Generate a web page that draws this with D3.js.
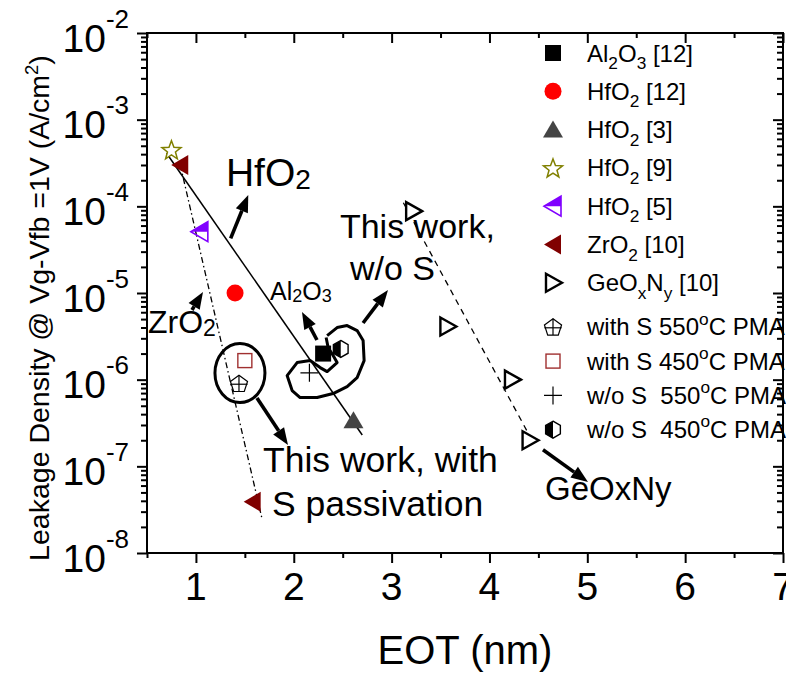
<!DOCTYPE html>
<html>
<head>
<meta charset="utf-8">
<script src="https://cdn.jsdelivr.net/npm/d3@7"></script>
<style>
  body { margin: 0; background: #fff; }
  svg { display: block; font-family: "Liberation Sans", Arial, sans-serif; }
</style>
</head>
<body>
<svg id="chart" width="786" height="675"></svg>
<script>
// ---- data: EOT (nm) and leakage density at Vg-Vfb = 1 V (A/cm^2) ----
const al2o3Ref12Eot = [2.30],  al2o3Ref12J = [2.0e-6];
const hfo2Ref12Eot  = [1.40],  hfo2Ref12J  = [1.0e-5];
const hfo2Ref3Eot   = [2.61],  hfo2Ref3J   = [3.4e-7];
const hfo2Ref9Eot   = [0.75],  hfo2Ref9J   = [4.5e-4];
const hfo2Ref5Eot   = [1.04],  hfo2Ref5J   = [5.1e-5];
const zro2Ref10Eot  = [0.84, 1.58], zro2Ref10J = [3.0e-4, 3.9e-8];
const geoxnyRef10Eot = [3.22, 3.57, 4.23, 4.41];
const geoxnyRef10J   = [8.8e-5, 4.1e-6, 1.0e-6, 2.0e-7];
const withS550Eot = [1.44], withS550J = [9.1e-7];
const withS450Eot = [1.50], withS450J = [1.66e-6];
const woS550Eot   = [2.16], woS550J   = [1.2e-6];
const woS450Eot   = [2.48], woS450J   = [2.26e-6];

// trend guide lines
const hfo2TrendEot   = [0.70, 2.70],  hfo2TrendJ   = [4.1e-4, 2.3e-7];
const zro2TrendEot   = [0.84, 1.675], zro2TrendJ   = [3.0e-4, 2.5e-8];
const geoxnyTrendEot = [3.12, 4.38],  geoxnyTrendJ = [1.1e-4, 2.6e-7];

// axis ticks
const xTicks = [1, 2, 3, 4, 5, 6, 7];
const xMinorTicks = [0.5, 1.5, 2.5, 3.5, 4.5, 5.5, 6.5];
const yTickExps = [-8, -7, -6, -5, -4, -3, -2];

// legend labels ("_" = subscript char, "^" = superscript char)
const legendLabels = [
  "Al_2O_3 [12]", "HfO_2 [12]", "HfO_2 [3]", "HfO_2 [9]", "HfO_2 [5]",
  "ZrO_2 [10]", "GeO_xN_y [10]",
  "with S 550^oC PMA", "with S 450^oC PMA", "w/o S  550^oC PMA", "w/o S  450^oC PMA"
];
const legendSymbols = [
  "square", "circle", "triUp", "star", "triLeftHalf", "triLeft", "triRightOpen",
  "pentagon", "squareOpen", "plus", "hexHalf"
];

const series = [
  { eot: al2o3Ref12Eot, j: al2o3Ref12J, sym: "square" },
  { eot: hfo2Ref12Eot, j: hfo2Ref12J, sym: "circle" },
  { eot: hfo2Ref3Eot, j: hfo2Ref3J, sym: "triUp" },
  { eot: hfo2Ref9Eot, j: hfo2Ref9J, sym: "star" },
  { eot: hfo2Ref5Eot, j: hfo2Ref5J, sym: "triLeftHalf" },
  { eot: zro2Ref10Eot, j: zro2Ref10J, sym: "triLeft" },
  { eot: geoxnyRef10Eot, j: geoxnyRef10J, sym: "triRightOpen" },
  { eot: withS550Eot, j: withS550J, sym: "pentagon" },
  { eot: withS450Eot, j: withS450J, sym: "squareOpen" },
  { eot: woS550Eot, j: woS550J, sym: "plus" },
  { eot: woS450Eot, j: woS450J, sym: "hexHalf" }
];

// ---- layout ----
const svg = d3.select("#chart");
const L = 147, R = 783, T = 33, B = 553;
const x = d3.scaleLinear().domain([0.5, 7]).range([L, R]);
const y = d3.scaleLog().domain([1e-8, 1e-2]).range([B, T]);

// rich text with sub/superscripts
function richText(sel, str, size, opts = {}) {
  const subScale = opts.subScale ?? 0.68;
  const subDy = opts.subDy ?? 0.28;
  const supDy = opts.supDy ?? -0.42;
  const tokens = [];
  for (let i = 0; i < str.length; i++) {
    const c = str[i];
    if ((c === "_" || c === "^") && i + 1 < str.length) {
      tokens.push({ t: c === "_" ? "sub" : "sup", s: str[i + 1] });
      i++;
    } else {
      const last = tokens[tokens.length - 1];
      if (last && last.t === "n") last.s += c; else tokens.push({ t: "n", s: c });
    }
  }
  let cur = 0;
  tokens.forEach(tok => {
    let target = 0, fs = size;
    if (tok.t === "sub") { target = size * subDy; fs = size * subScale; }
    if (tok.t === "sup") { target = size * supDy; fs = size * subScale; }
    sel.append("tspan").attr("font-size", fs).attr("dy", target - cur).text(tok.s);
    cur = target;
  });
  return sel;
}

// marker glyphs
function drawMarker(g, type, cx, cy) {
  const m = g.append("g").attr("transform", `translate(${cx},${cy})`);
  switch (type) {
    case "square":
      m.append("rect").attr("x", -8).attr("y", -8).attr("width", 16).attr("height", 16).attr("fill", "#000");
      break;
    case "circle":
      m.append("circle").attr("r", 8.5).attr("fill", "#ff0000");
      break;
    case "triUp":
      m.append("polygon").attr("points", "0,-9 10,8 -10,8").attr("fill", "#444");
      break;
    case "star": {
      const pts = d3.range(10).map(i => {
        const r = i % 2 === 0 ? 10 : 4.2;
        const a = -Math.PI / 2 + i * Math.PI / 5;
        return [r * Math.cos(a), r * Math.sin(a) + 1];
      });
      m.append("polygon").attr("points", pts.map(p => p.join(",")).join(" "))
        .attr("fill", "#fff").attr("stroke", "#808000").attr("stroke-width", 1.5);
      break;
    }
    case "triLeftHalf":
      m.append("polygon").attr("points", "-9,0 8,-10 8,0").attr("fill", "#8000ff");
      m.append("polygon").attr("points", "-9,0 8,-10 8,10").attr("fill", "none")
        .attr("stroke", "#8000ff").attr("stroke-width", 1.6).attr("stroke-linejoin", "miter");
      break;
    case "triLeft":
      m.append("polygon").attr("points", "-9,0 8,-10 8,10").attr("fill", "#800000");
      break;
    case "triRightOpen":
      m.append("polygon").attr("points", "9,0 -7,-9 -7,9").attr("fill", "#fff")
        .attr("stroke", "#000").attr("stroke-width", 2.4);
      break;
    case "pentagon": {
      const pts = d3.range(5).map(i => {
        const a = -Math.PI / 2 + i * 2 * Math.PI / 5;
        return [9 * Math.cos(a), 9 * Math.sin(a) + 1];
      });
      m.append("polygon").attr("points", pts.map(p => p.join(",")).join(" "))
        .attr("fill", "#fff").attr("stroke", "#000").attr("stroke-width", 1.2);
      m.append("line").attr("x1", 0).attr("x2", 0).attr("y1", -8).attr("y2", 8.3).attr("stroke", "#000").attr("stroke-width", 1.2);
      m.append("line").attr("x1", -8.6).attr("x2", 8.6).attr("y1", 1).attr("y2", 1).attr("stroke", "#000").attr("stroke-width", 1.2);
      break;
    }
    case "squareOpen":
      m.append("rect").attr("x", -7).attr("y", -7).attr("width", 14).attr("height", 14)
        .attr("fill", "#fff").attr("stroke", "#a03030").attr("stroke-width", 1.4);
      break;
    case "plus":
      m.append("path").attr("d", "M-9,0H9M0,-9V9").attr("stroke", "#000").attr("stroke-width", 1.2);
      break;
    case "hexHalf": {
      const pts = d3.range(6).map(i => {
        const a = -Math.PI / 2 + i * Math.PI / 3;
        return [8.5 * Math.cos(a), 8.5 * Math.sin(a)];
      });
      m.append("polygon").attr("points", [[0, -8.5], pts[3], pts[4], pts[5]].map(p => p.join(",")).join(" "))
        .attr("fill", "#000");
      m.append("polygon").attr("points", pts.map(p => p.join(",")).join(" "))
        .attr("fill", "none").attr("stroke", "#000").attr("stroke-width", 1.4);
      break;
    }
  }
}

// ---- trend lines ----
const lineGen = d3.line().x(d => x(d[0])).y(d => y(d[1]));
const plot = svg.append("g");
plot.append("path").datum(d3.zip(hfo2TrendEot, hfo2TrendJ)).attr("d", lineGen)
  .attr("fill", "none").attr("stroke", "#000").attr("stroke-width", 1.5);
plot.append("path").datum(d3.zip(zro2TrendEot, zro2TrendJ)).attr("d", lineGen)
  .attr("fill", "none").attr("stroke", "#000").attr("stroke-width", 1.3).attr("stroke-dasharray", "6,3,1.5,3");
plot.append("path").datum(d3.zip(geoxnyTrendEot, geoxnyTrendJ)).attr("d", lineGen)
  .attr("fill", "none").attr("stroke", "#000").attr("stroke-width", 1.3).attr("stroke-dasharray", "6,5");

// ---- annotations (anchored in data coordinates) ----
const ann = svg.append("g").attr("fill", "#000");
function label(str, eot, j, size, opts) {
  const t = ann.append("text").attr("x", x(eot)).attr("y", y(j)).attr("font-size", size);
  if (opts && opts.anchor) t.attr("text-anchor", opts.anchor);
  richText(t, str, size, opts);
}
function arrow(e1, j1, e2, j2) {
  const x1 = x(e1), y1 = y(j1), x2 = x(e2), y2 = y(j2);
  const a = Math.atan2(y2 - y1, x2 - x1);
  const hl = 17, hw = 6.5;
  const bx = x2 - hl * Math.cos(a), by = y2 - hl * Math.sin(a);
  ann.append("line").attr("x1", x1).attr("y1", y1).attr("x2", bx).attr("y2", by)
    .attr("stroke", "#000").attr("stroke-width", 3.6);
  ann.append("polygon").attr("points", [
    [x2, y2],
    [bx + hw * Math.sin(a), by - hw * Math.cos(a)],
    [bx - hw * Math.sin(a), by + hw * Math.cos(a)]
  ].map(p => p.join(",")).join(" ")).attr("fill", "#000");
}

label("HfO_2", 1.307, 1.72e-4, 39, { subScale: 0.72, subDy: 0.08 });
arrow(1.355, 4.27e-5, 1.535, 1.35e-4);
label("ZrO_2", 0.51, 3.45e-6, 32, { subScale: 0.72, subDy: 0.08 });
arrow(0.96, 6.37e-6, 1.072, 1.03e-5);
label("Al_2O_3", 1.757, 8.3e-6, 25, { subScale: 0.72, subDy: 0.08 });
arrow(2.237, 2.87e-6, 2.084, 6.04e-6);
label("This work,", 2.472, 4.31e-5, 34);
label("w/o S", 2.575, 1.41e-5, 34);
arrow(2.708, 4.51e-6, 2.963, 1.08e-5);
label("This work, with", 1.686, 8.6e-8, 35.5);
label("S passivation", 1.778, 2.67e-8, 35.5);
arrow(1.624, 6.14e-7, 1.941, 1.76e-7);
label("GeOxNy", 4.568, 4.09e-8, 33);
arrow(4.547, 1.55e-7, 5.007, 6.6e-8);

// ring around the S-passivated samples
ann.append("ellipse").attr("cx", x(1.45)).attr("cy", y(1.19e-6)).attr("rx", 25).attr("ry", 29.5)
  .attr("fill", "none").attr("stroke", "#000").attr("stroke-width", 3);

// curl around the unpassivated samples (pixel offsets from its anchor)
const curlOffsets = [[4,-18],[14,-26],[24,-28],[34,-23],[40,-13],[41,7],[34,24],[24,33],[10,40],
  [-6,44],[-23,44],[-31,37],[-36,22],[-26,9],[-13,7],[-3,14],[4,18],[14,9],[10,2],[5,-6],[3,-16]];
const cax = x(2.3), cay = y(2.0e-6);
ann.append("path").attr("d", d3.line()(curlOffsets.map(p => [cax + p[0], cay + p[1]])))
  .attr("fill", "none").attr("stroke", "#000").attr("stroke-width", 3).attr("stroke-linejoin", "round");

// ---- data markers ----
const markers = svg.append("g");
series.forEach(s => {
  s.eot.forEach((e, i) => drawMarker(markers, s.sym, x(e), y(s.j[i])));
});

// ---- legend ----
const legend = svg.append("g").attr("font-size", 24).style("white-space", "pre");
legendLabels.forEach((lab, i) => {
  const ly = i < 7 ? 53 + i * 38.3 : 53 + 6 * 38.3 + 44 + (i - 7) * 34.3;
  drawMarker(legend, legendSymbols[i], 553, ly);
  const t = legend.append("text").attr("x", 587).attr("y", ly + 8.5).attr("xml:space", "preserve");
  richText(t, lab, 24, { subScale: 0.72, subDy: 0.32, supDy: -0.45 });
});

// ---- axes ----
const axes = svg.append("g");
const yMinor = [];
for (let e = -8; e < -2; e++) for (let m = 2; m <= 9; m++) yMinor.push(m * Math.pow(10, e));
const yMajor = yTickExps.map(e => Math.pow(10, e));

function styleAxis(g) {
  g.select(".domain").remove();
  g.selectAll("line").attr("stroke", "#000").attr("stroke-width", 2);
  g.selectAll("text").remove();
}
axes.append("g").attr("transform", `translate(0,${B})`).call(d3.axisBottom(x).tickValues(xTicks).tickSize(10)).call(styleAxis);
axes.append("g").attr("transform", `translate(0,${B})`).call(d3.axisBottom(x).tickValues(xMinorTicks).tickSize(5)).call(styleAxis);
axes.append("g").attr("transform", `translate(0,${T})`).call(d3.axisTop(x).tickValues(xTicks).tickSize(-10)).call(styleAxis);
axes.append("g").attr("transform", `translate(0,${T})`).call(d3.axisTop(x).tickValues(xMinorTicks).tickSize(-5)).call(styleAxis);
axes.append("g").attr("transform", `translate(${L},0)`).call(d3.axisLeft(y).tickValues(yMajor).tickSize(10)).call(styleAxis);
axes.append("g").attr("transform", `translate(${L},0)`).call(d3.axisLeft(y).tickValues(yMinor).tickSize(6)).call(styleAxis);
axes.append("g").attr("transform", `translate(${R},0)`).call(d3.axisRight(y).tickValues(yMajor).tickSize(-10)).call(styleAxis);
axes.append("g").attr("transform", `translate(${R},0)`).call(d3.axisRight(y).tickValues(yMinor).tickSize(-6)).call(styleAxis);
axes.append("rect").attr("x", L).attr("y", T).attr("width", R - L).attr("height", B - T)
  .attr("fill", "none").attr("stroke", "#000").attr("stroke-width", 2);

// tick labels
axes.selectAll(".xlab").data(xTicks).enter().append("text")
  .attr("x", d => x(d)).attr("y", B + 47).attr("text-anchor", "middle").attr("font-size", 39).text(d => d);
yTickExps.forEach(e => {
  const t = axes.append("text").attr("x", 129).attr("y", y(Math.pow(10, e)) + 18.5)
    .attr("text-anchor", "end").attr("font-size", 39);
  t.append("tspan").text("10");
  t.append("tspan").attr("font-size", 26).attr("dy", -24).text(String(e));
});

// axis titles
svg.append("text").attr("x", 465).attr("y", 664).attr("text-anchor", "middle").attr("font-size", 40).text("EOT (nm)");
const yt = svg.append("text").attr("transform", "translate(49,308) rotate(-90)").attr("text-anchor", "middle").attr("font-size", 28.5);
richText(yt, "Leakage Density @ Vg-Vfb =1V (A/cm^2)", 28.5, { subScale: 0.65, supDy: -0.4 });
</script>
</body>
</html>
